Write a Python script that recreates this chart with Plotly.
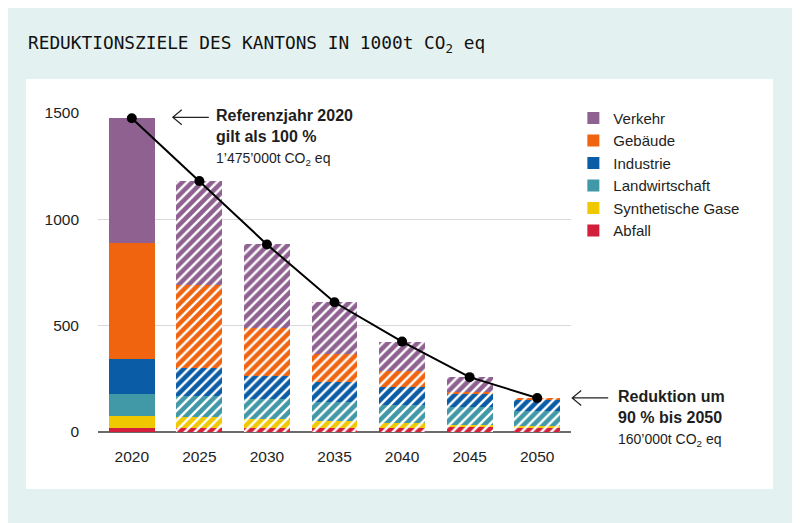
import plotly.graph_objects as go

years = ["2020", "2025", "2030", "2035", "2040", "2045", "2050"]

# Emissionen in 1000t CO2 eq, von unten nach oben gestapelt
abfall = [19, 18, 18, 20, 20, 22, 22]
synthetische_gase = [56, 52, 42, 32, 22, 13, 8]
landwirtschaft = [105, 99, 94, 89, 85, 82, 70]
industrie = [162, 134, 111, 94, 85, 62, 52]
gebaeude = [546, 387, 224, 133, 77, 8, 8]
verkehr = [587, 490, 393, 242, 136, 71, 0]
totals = [1475, 1180, 882, 610, 425, 258, 160]

y_max = 1500

sectors = [
    ("Abfall", abfall, "#d31f3c"),
    ("Synthetische Gase", synthetische_gase, "#f0c800"),
    ("Landwirtschaft", landwirtschaft, "#4198a6"),
    ("Industrie", industrie, "#0b5ca6"),
    ("Gebäude", gebaeude, "#f0640f"),
    ("Verkehr", verkehr, "#8f6191"),
]

# 2020 ist gemessen, danach Zielwerte (schraffiert)
patterns = [""] + ["/"] * (len(years) - 1)

fig = go.Figure()
for name, values, color in sectors:
    fig.add_trace(go.Bar(
        x=years, y=values, name=name,
        marker=dict(
            color=color, line=dict(width=0),
            pattern=dict(shape=patterns, fillmode="overlay", fgcolor="white",
                         fgopacity=1, size=7, solidity=0.35),
        ),
    ))

fig.add_trace(go.Scatter(
    x=years, y=totals, mode="lines+markers", showlegend=False,
    line=dict(color="black", width=2),
    marker=dict(color="black", size=10),
    cliponaxis=False,
))

txt = "#1e1e1e"
# die Seite hat 8px Rand, darum alles um 8px nach links/oben
fig.update_layout(
    width=800, height=523,
    barmode="stack", bargap=0.323,
    paper_bgcolor="#e4f1f1", plot_bgcolor="white",
    margin=dict(l=90, r=237, t=105, b=99),
    font=dict(family="Liberation Sans", size=15, color=txt),
    title=dict(
        text="REDUKTIONSZIELE DES KANTONS IN 1000t CO<sub>2</sub> eq",
        x=20 / 800, xref="container", xanchor="left",
        y=1 - 35 / 523, yref="container", yanchor="middle",
        font=dict(family="DejaVu Sans Mono", size=17.8, color="#111"),
    ),
    legend=dict(
        x=1.005, y=1.035, xanchor="left", yanchor="top",
        traceorder="reversed", font=dict(size=15, color=txt),
        bgcolor="rgba(0,0,0,0)", tracegroupgap=0,
    ),
    xaxis=dict(type="category", range=[-0.5, len(years) - 0.5],
               showgrid=False, ticks="", ticklabelstandoff=13,
               tickfont=dict(size=15.5, color=txt)),
    yaxis=dict(range=[0, y_max], tickvals=[0, 500, 1000, 1500],
               gridcolor="#d9d9d9", gridwidth=1,
               zeroline=True, zerolinecolor="#6a6a6a", zerolinewidth=2,
               ticks="", ticklabelstandoff=18,
               tickfont=dict(size=15.5, color=txt)),
)

# weisse Fläche hinter dem Diagramm
fig.add_shape(type="rect", xref="paper", yref="paper",
              x0=-0.1522, x1=1.427, y0=-0.1787, y1=1.1066,
              fillcolor="white", line=dict(width=0), layer="below")

# Pfeile zu den Beschriftungen (paper-Bezug, damit nichts abgeschnitten wird)
arrow = dict(type="path", xref="paper", yref="paper",
             xsizemode="pixel", ysizemode="pixel",
             line=dict(color="#222", width=1.2))
n = len(years)
fig.add_shape(xanchor=0.5 / n, yanchor=totals[0] / y_max,
              path="M41,1 L77,1 M50,8.5 L41,1 L50,-6.5", **arrow)
fig.add_shape(xanchor=(n - 0.5) / n, yanchor=totals[-1] / y_max,
              path="M35,0 L71,0 M44,7.5 L35,0 L44,-7.5", **arrow)

fig.add_annotation(
    xref="paper", yref="paper", x=0.245, y=1.025, xanchor="left", yanchor="top",
    align="left", showarrow=False, font=dict(size=16),
    text="<b>Referenzjahr 2020<br>gilt als 100 %</b><br>"
         "<span style='font-size:14px'>1’475’000t CO<sub>2</sub> eq</span>",
)
fig.add_annotation(
    xref="paper", yref="paper", x=1.095, y=0.145, xanchor="left", yanchor="top",
    align="left", showarrow=False, font=dict(size=16),
    text="<b>Reduktion um<br>90 % bis 2050</b><br>"
         "<span style='font-size:14px'>160’000t CO<sub>2</sub> eq</span>",
)

fig.write_html("out.html")
